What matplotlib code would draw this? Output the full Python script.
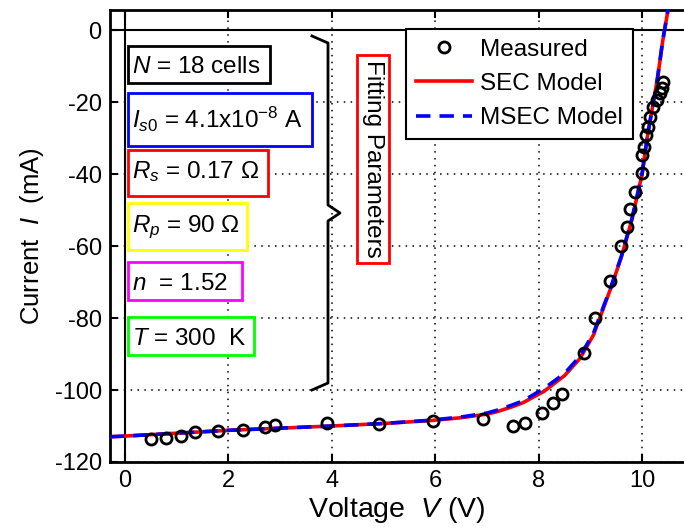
import matplotlib
matplotlib.use('Agg')
import matplotlib.pyplot as plt
from matplotlib.patches import Rectangle

plt.rcParams['font.family'] = ['Liberation Sans', 'DejaVu Sans']
plt.rcParams['mathtext.fontset'] = 'custom'
plt.rcParams['mathtext.rm'] = 'Liberation Sans'
plt.rcParams['mathtext.it'] = 'Liberation Sans:italic'
plt.rcParams['axes.unicode_minus'] = False

# measured I-V points (V, mA)
v_meas = [0.50, 0.79, 1.08, 1.35, 1.79, 2.28, 2.71, 2.91, 3.90, 4.91, 5.95,
          6.92, 7.50, 7.74, 8.07, 8.27, 8.46, 8.88, 9.08, 9.38, 9.59, 9.70,
          9.77, 9.86, 9.99, 9.99, 10.03, 10.08, 10.12, 10.15, 10.21, 10.28,
          10.35, 10.38, 10.41]
i_meas = [-113.7, -113.4, -112.8, -111.8, -111.4, -111.1, -110.2, -109.7,
          -109.3, -109.5, -108.6, -108.1, -110.1, -109.3, -106.5, -103.6,
          -101.0, -89.8, -79.9, -69.6, -59.9, -54.6, -49.8, -44.9, -39.8,
          -34.7, -32.4, -29.2, -26.9, -24.1, -21.3, -19.4, -17.6, -16.2, -14.4]

# fitted model curves
v_fit = [-0.3, 0.0, 1.0, 2.0, 3.0, 4.0, 5.0, 5.9, 6.5, 7.0, 7.2, 7.5, 7.7,
         8.1, 8.5, 8.8, 9.06, 9.4, 9.6, 9.8, 10.0, 10.1, 10.2, 10.3, 10.4, 10.5]
i_sec = [-113.0, -112.8, -112.0, -111.2, -110.6, -110.0, -109.3, -108.5,
         -107.7, -106.7, -106.0, -104.6, -103.5, -100.4, -96.0, -91.2, -84.7,
         -71.5, -63.0, -52.8, -40.0, -29.8, -21.5, -13.2, -2.9, 5.5]
i_msec = [-113.0, -112.8, -112.0, -111.2, -110.6, -110.0, -109.3, -108.4,
          -107.5, -106.4, -105.6, -104.1, -103.0, -99.6, -95.4, -90.6, -84.2,
          -71.2, -62.8, -52.6, -39.9, -29.7, -21.4, -13.1, -2.8, 5.6]

param_texts = ['$N$ = 18 cells',
               '$I_{s0}$ = 4.1x10$^{-8}$ A',
               '$R_s$ = 0.17 \u03a9',
               '$R_p$ = 90 \u03a9',
               '$n$  = 1.52',
               '$T$ = 300  K']
param_colors = ['black', '#0000ff', '#ff0000', '#ffff00', '#ff00ff', '#00ff00']

# layout in pixels of the 684x531 picture; axes spans x 110..684, y 10..462
AX_L, AX_T, AX_W, AX_H = 110, 10, 574, 452


def fx(px):
    return (px - AX_L) / AX_W


def fy(py):
    return 1 - (py - AX_T) / AX_H


# parameter boxes: (left, right, top, bottom) and text baseline, in px
box_px = [(128, 270, 46, 83), (128, 312, 93, 146), (128, 268, 150, 196),
          (128, 247, 203, 250), (128, 242, 262, 300), (128, 254, 317, 355)]
baseline_px = [73, 128, 178, 232, 290, 345]

# brace beside the parameter boxes
brace_px = [(312, 36), (328, 43), (328, 205), (340, 213), (328, 221),
            (328, 383), (312, 390)]

fig = plt.figure(figsize=(6.84, 5.31), dpi=100)
ax = fig.add_axes([AX_L / 684, (531 - AX_T - AX_H) / 531, AX_W / 684, AX_H / 531])

ax.plot(v_fit, i_sec, '-', color='#ff0000', lw=2.6, label='SEC Model', zorder=3)
ax.plot(v_fit, i_msec, '--', color='#0000ff', lw=2.6, dashes=(4, 2.5),
        label='MSEC Model', zorder=4)
ax.plot(v_meas, i_meas, 'o', mfc='none', mec='black', ms=8, mew=2,
        label='Measured', zorder=5)

ax.axhline(0, color='black', lw=1.5, zorder=2)
ax.axvline(0, color='black', lw=1.5, zorder=2)

ax.set_xlim(-0.29, 10.81)
ax.set_ylim(-120, 5.56)
ax.set_xticks(range(0, 11, 2))
ax.set_yticks(range(-120, 1, 20))
ax.set_axisbelow(True)
ax.grid(True, linestyle=(0, (1, 3.5)), color='black', lw=1.1)
ax.tick_params(direction='in', length=6, width=1.5, labelsize=17,
               top=True, right=False, pad=6)
for side in ['left', 'bottom', 'top']:
    ax.spines[side].set_linewidth(2)
ax.spines['right'].set_visible(False)

ax.set_xlabel('Voltage  $V$ (V)', fontsize=20.5, labelpad=2)
ax.set_ylabel('Current  $I$  (mA)', fontsize=18.5, labelpad=6)

handles, labels = ax.get_legend_handles_labels()
order = [2, 0, 1]
leg = ax.legend([handles[k] for k in order], [labels[k] for k in order],
                loc='upper left', bbox_to_anchor=(fx(406), fy(29)),
                borderaxespad=0, fontsize=17.5, fancybox=False,
                edgecolor='black', framealpha=1, handlelength=2.3,
                handletextpad=0.35, labelspacing=0.5, borderpad=0.4)
leg.get_frame().set_linewidth(1.5)

for txt, col, (l, r, t, b), base in zip(param_texts, param_colors, box_px,
                                        baseline_px):
    ax.add_patch(Rectangle((fx(l), fy(b)), fx(r) - fx(l), fy(t) - fy(b),
                           transform=ax.transAxes, fc='white', ec=col, lw=2,
                           zorder=6))
    ax.text(fx(l + 4), fy(base), txt, transform=ax.transAxes, fontsize=17.5,
            ha='left', va='baseline', zorder=7)

ax.text(fx(373), fy(159), 'Fitting Parameters', transform=ax.transAxes,
        rotation=-90, fontsize=17.5, ha='center', va='center', zorder=6,
        bbox=dict(boxstyle='square,pad=0.2', fc='white', ec='#ff0000', lw=2))

ax.plot([fx(p[0]) for p in brace_px], [fy(p[1]) for p in brace_px],
        color='black', lw=2, transform=ax.transAxes, clip_on=False, zorder=6)

fig.savefig('out.png', dpi=100)
